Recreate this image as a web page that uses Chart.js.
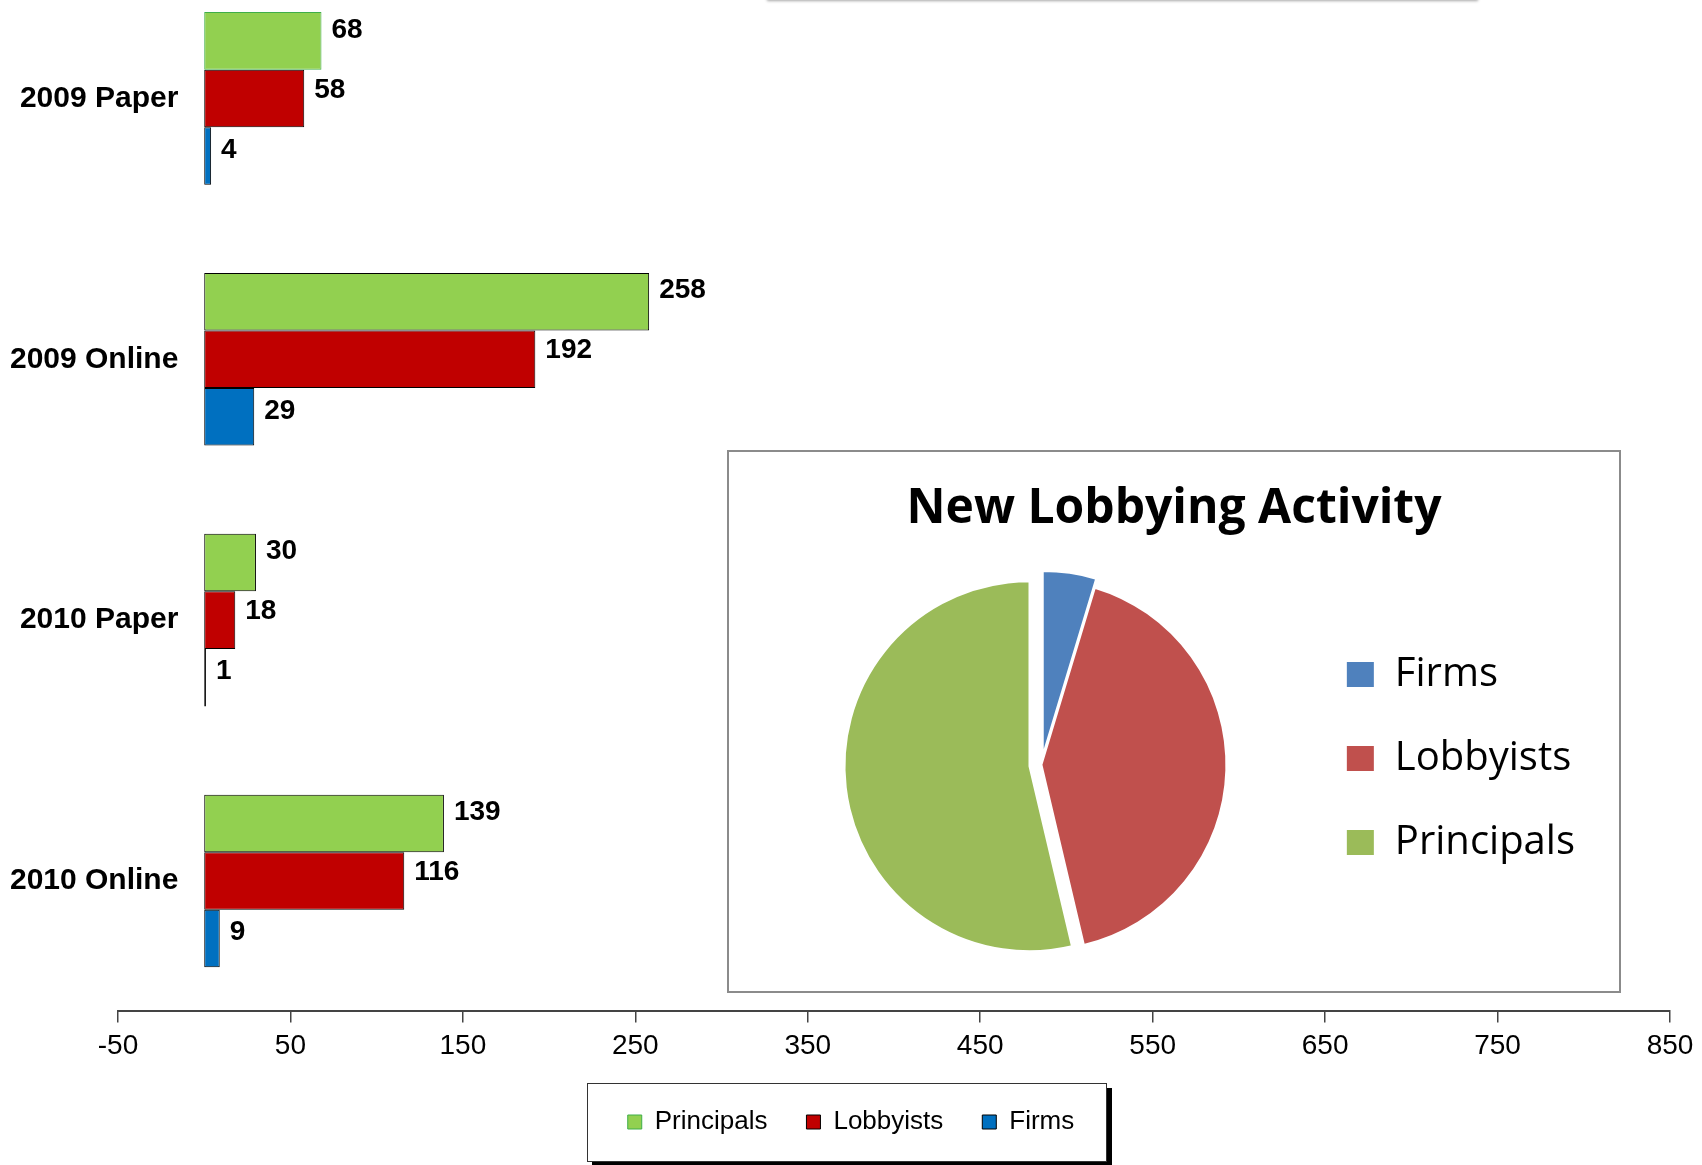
<!DOCTYPE html>
<html>
<head>
<meta charset="utf-8">
<title>New Lobbying Activity</title>
<script src="https://cdn.jsdelivr.net/npm/chart.js@4.4.1/dist/chart.umd.min.js"></script>
<style>
  html, body { margin: 0; padding: 0; background: #fff; }
  body { width: 1702px; height: 1165px; position: relative; overflow: hidden; }
  #top-strip { position: absolute; left: 767px; top: -10px; width: 711px; height: 10px; background: #fff; box-shadow: 0 1px 3px rgba(0, 0, 0, 0.35); }
  #bar-chart { position: absolute; left: 0; top: -56px; }
  #pie-box { position: absolute; left: 727px; top: 450px; width: 894px; height: 543px; box-sizing: border-box; border: 2px solid #8b8b8b; background: #fff; }
  #pie-chart { display: block; }
</style>
</head>
<body>
<div id="top-strip"></div>
<canvas id="bar-chart" width="1702" height="1221"></canvas>
<div id="pie-box"><canvas id="pie-chart" width="890" height="539"></canvas></div>
<script>
var categories = ["2009 Paper", "2009 Online", "2010 Paper", "2010 Online"];
var principals = [68, 258, 30, 139];
var lobbyists = [58, 192, 18, 116];
var firms = [4, 29, 1, 9];
var xTicks = [-50, 50, 150, 250, 350, 450, 550, 650, 750, 850];
var pieLabels = ["Firms", "Lobbyists", "Principals"];

function sum(arr) {
	return arr.reduce(function(a, b) { return a + b; }, 0);
}
// pie slices are the totals of each series over all four filings
var pieTotals = [sum(firms), sum(lobbyists), sum(principals)];
// how far (px) each slice is pulled out of the pie
var pieExplode = [9, 0, 12];

var arial = '"Liberation Sans", Arial, sans-serif';
var legendFontSize = 26;
Chart.defaults.color = '#000';

// nudges the legend / title boxes after layout (or centres the legend on the canvas)
var boxShift = {
	id: 'boxShift',
	afterLayout: function(chart, args, opts) {
		var lg = chart.legend;
		if (lg) {
			var dx = opts.dx || 0;
			var dy = opts.dy || 0;
			if (opts.centerOnCanvas) dx += chart.width / 2 - (lg.left + lg.right) / 2;
			lg.left += dx; lg.right += dx;
			lg.top += dy; lg.bottom += dy;
		}
		if (chart.titleBlock && opts.titleDx) {
			chart.titleBlock.left += opts.titleDx;
			chart.titleBlock.right += opts.titleDx;
		}
	}
};

// white box with a hard black drop shadow behind the bar legend
var legendFrame = {
	id: 'legendFrame',
	beforeDraw: function(chart) {
		var lg = chart.legend;
		var ctx = chart.ctx;
		var w = 520, h = 79;
		var cx = (lg.left + lg.right) / 2 - 4;
		var cy = lg.top + lg.options.labels.padding + legendFontSize / 2;
		var x0 = Math.round(cx - w / 2), y0 = Math.round(cy - h / 2);
		ctx.save();
		ctx.fillStyle = '#000';
		ctx.fillRect(x0 + 5, y0 + 5, w, h);
		ctx.fillStyle = '#fff';
		ctx.fillRect(x0, y0, w, h);
		ctx.strokeStyle = '#333';
		ctx.lineWidth = 1;
		ctx.strokeRect(x0 + 0.5, y0 + 0.5, w - 1, h - 1);
		ctx.restore();
	}
};

// value printed just past the end of every bar
var valueLabels = {
	id: 'valueLabels',
	afterDatasetsDraw: function(chart) {
		var ctx = chart.ctx;
		ctx.save();
		ctx.font = 'bold 28px ' + arial;
		ctx.fillStyle = '#000';
		ctx.textBaseline = 'middle';
		chart.data.datasets.forEach(function(ds, i) {
			chart.getDatasetMeta(i).data.forEach(function(bar, j) {
				ctx.fillText(ds.data[j], bar.x + 10, bar.y - 11 + 2.5 * i);
			});
		});
		ctx.restore();
	}
};

// pulls pie slices out along their mid angle, without growing them
var explodeSlices = {
	id: 'explodeSlices',
	afterDatasetUpdate: function(chart, args) {
		args.meta.data.forEach(function(arc, i) {
			var d = pieExplode[i] || 0;
			var mid = (arc.startAngle + arc.endAngle) / 2;
			arc.x += Math.cos(mid) * d;
			arc.y += Math.sin(mid) * d;
		});
	}
};

var barChart = new Chart(document.getElementById('bar-chart'), {
	type: 'bar',
	data: {
		labels: categories,
		datasets: [
			{
				label: 'Principals',
				data: principals,
				backgroundColor: '#92d050',
				// the 2009 paper bar carries a green outline
				borderColor: function(c) { return c.dataIndex === 0 ? '#3fae49' : '#000'; }
			},
			{ label: 'Lobbyists', data: lobbyists, backgroundColor: '#c00000' },
			{ label: 'Firms', data: firms, backgroundColor: '#0070c0' }
		]
	},
	options: {
		indexAxis: 'y',
		responsive: false,
		animation: false,
		layout: { padding: { left: 118, right: 32, top: 24, bottom: 20 } },
		datasets: {
			bar: {
				borderColor: '#000',
				borderWidth: 1,
				borderSkipped: false,
				categoryPercentage: 0.662,
				barPercentage: 1
			}
		},
		scales: {
			x: {
				min: -50,
				max: 850,
				afterBuildTicks: function(scale) {
					scale.ticks = xTicks.map(function(v) { return { value: v }; });
				},
				grid: { drawOnChartArea: false, drawTicks: true, tickLength: 11, color: '#444', lineWidth: 1.5 },
				border: { display: true, color: '#444', width: 2 },
				ticks: { padding: 7, color: '#000', font: { family: arial, size: 28 } }
			},
			y: {
				position: { x: -15 },
				grid: { display: false },
				border: { display: false },
				ticks: { color: '#000', font: { family: arial, size: 30, weight: 'bold' } }
			}
		},
		plugins: {
			legend: {
				position: 'bottom',
				labels: {
					boxWidth: 14,
					boxHeight: 14,
					padding: 39,
					color: '#000',
					font: { family: arial, size: legendFontSize }
				}
			},
			tooltip: { enabled: false },
			boxShift: { centerOnCanvas: true }
		}
	},
	plugins: [boxShift, legendFrame, valueLabels]
});

var pieChart = new Chart(document.getElementById('pie-chart'), {
	type: 'pie',
	data: {
		labels: pieLabels,
		datasets: [{
			data: pieTotals,
			backgroundColor: ['#4f81bd', '#c0504d', '#9bbb59'],
			borderColor: '#fff',
			borderWidth: 2,
			radius: 185
		}]
	},
	options: {
		responsive: false,
		animation: false,
		layout: { padding: { left: 52, right: 34, top: 0, bottom: 6 } },
		plugins: {
			title: {
				display: true,
				text: 'New Lobbying Activity',
				color: '#000',
				font: { family: '"Open Sans"', size: 48, weight: 'bold' },
				padding: { top: 29, bottom: 6 }
			},
			legend: {
				position: 'right',
				labels: {
					boxWidth: 29,
					boxHeight: 27,
					padding: 44,
					color: '#000',
					font: { family: '"Open Sans"', size: 40 }
				}
			},
			tooltip: { enabled: false },
			boxShift: { dy: 40, titleDx: -9 }
		}
	},
	plugins: [boxShift, explodeSlices]
});
</script>
</body>
</html>
